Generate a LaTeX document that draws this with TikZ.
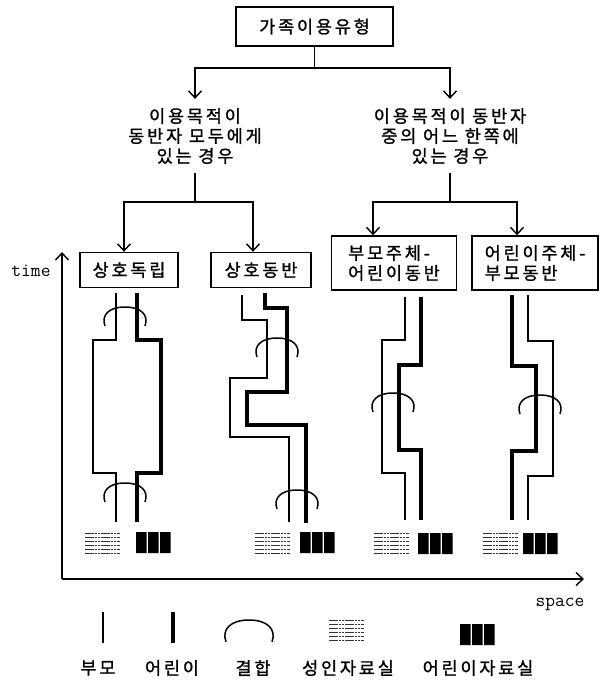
\documentclass[tikz,border=0pt]{standalone}
\usepackage{fontspec}
\newfontfamily\kr[LetterSpace=16,FakeBold=1.2]{Noto Sans CJK KR}
\usetikzlibrary{arrows.meta}
\tikzset{
  joinarc/.pic={\draw[line width=1.5pt] (-20,19) .. controls (-24,8) and (-16,0) .. (0,0) .. controls (16,0) and (24,8) .. (20,19);},
  adultroom/.pic={\foreach \k in {0,...,5}{\draw[line width=0.7pt,black!80,dash pattern=on 2.5pt off 0.7pt] (0,\k*4) -- (35,\k*4);}},
  childroom/.pic={\fill (0,0) rectangle (10.5,21) (12,0) rectangle (22.5,21) (24,0) rectangle (34.5,21);}
}
\begin{document}
\begin{tikzpicture}[x=1pt,y=-1pt,
  krtext/.style={font=\kr\fontsize{17.5}{20}\selectfont},
  boxnode/.style={krtext,draw,line width=1.4pt,inner sep=0pt,align=center},
  conn/.style={line width=1.4pt},
  arr/.style={conn,-{Straight Barb[length=7pt,width=13pt,line width=1.4pt]}},
  parentline/.style={line width=1.5pt},
  childline/.style={line width=3.2pt},
]
\useasboundingbox (0,0) rectangle (604,689);

% tree
\node[boxnode,minimum width=157pt,minimum height=39pt] (top) at (314.5,26.5) {가족이용유형};
\node[krtext,align=center,inner sep=9pt] (lt) at (195,136) {이용목적이\\동반자 모두에게\\있는 경우};
\node[krtext,align=center,inner sep=9pt] (rt) at (450,136) {이용목적이 동반자\\중의 어느 한쪽에\\있는 경우};

\node[boxnode,minimum width=98pt,minimum height=35pt] (b1) at (129,270) {상호독립};
\node[boxnode,minimum width=100pt,minimum height=35pt] (b2) at (261,270) {상호동반};
\node[boxnode,minimum width=125pt,minimum height=54pt,align=left] (b3) at (394,263) {부모주체-\\어린이동반};
\node[boxnode,minimum width=126pt,minimum height=54pt,align=left] (b4) at (535,263) {어린이주체-\\부모동반};

\coordinate (j1) at (top.south |- 0,68);
\draw[conn] (top.south) -- (j1);
\draw[arr] (j1) -| (lt.north);
\draw[arr] (j1) -| (rt.north);

\coordinate (j2) at (lt.south |- 0,202);
\draw[conn] (lt.south) -- (j2);
\draw[arr] (j2) -| ([xshift=-5pt]b1.north);
\draw[arr] (j2) -| ([xshift=-8pt]b2.north);

\coordinate (j3) at (rt.south |- 0,202);
\draw[conn] (rt.south) -- (j3);
\draw[arr] (j3) -| ([xshift=-21pt]b3.north);
\draw[arr] (j3) -| ([xshift=-18pt]b4.north);

% axes
\coordinate (O) at (62,579);
\coordinate (T) at (62,252);
\coordinate (S) at (584,579);
\draw[arr,line width=1.7pt] (O) -- (T);
\draw[arr,line width=1.7pt] (O) -- (S);
\node[font=\ttfamily\fontsize{19}{19}\selectfont] (tl) at (31,271) {time};
\node[font=\ttfamily\fontsize{19}{19}\selectfont] (sl) at (560,604) {space};

% panel 1
\draw[parentline] (116,293) -- (116,340) -- (93,340) -- (93,473) -- (116,473) -- (116,522);
\draw[childline] (137,293) -- (137,340) -- (161,340) -- (161,473) -- (137,473) -- (137,522);
\pic at (125,307) {joinarc};
\pic at (125,483) {joinarc};
\pic at (85,533) {adultroom};
\pic at (136,532) {childroom};

% panel 2
\draw[parentline] (242,295) -- (242,320) -- (267,320) -- (267,378) -- (230,378) -- (230,437) -- (289,437) -- (289,522);
\draw[childline] (265,293) -- (265,308) -- (287,308) -- (287,392) -- (247,392) -- (247,425) -- (306,425) -- (306,523);
\pic at (277,338) {joinarc};
\pic at (297,490) {joinarc};
\pic at (255,533) {adultroom};
\pic at (300,532) {childroom};

% panel 3
\draw[parentline] (405,297) -- (405,340) -- (382,340) -- (382,473) -- (405,473) -- (405,520);
\draw[childline] (421,297) -- (421,365) -- (399,365) -- (399,450) -- (421,450) -- (421,520);
\pic at (393,393) {joinarc};
\pic at (374,533) {adultroom};
\pic at (418,533) {childroom};

% panel 4
\draw[childline] (512,295) -- (512,366) -- (536,366) -- (536,451) -- (512,451) -- (512,520);
\draw[parentline] (528,295) -- (528,341) -- (553,341) -- (553,476) -- (528,476) -- (528,520);
\pic at (540,395) {joinarc};
\pic at (483,533) {adultroom};
\pic at (523,533) {childroom};

% legend
\draw[parentline] (103,612) -- (103,643);
\draw[childline] (173,612) -- (173,643);
\pic[scale=1.15] at (249,620) {joinarc};
\pic at (329,620) {adultroom};
\pic at (460,624) {childroom};
\node[krtext] (l1) at (98,668) {부모};
\node[krtext] (l2) at (172,668) {어린이};
\node[krtext] (l3) at (253,668) {결합};
\node[krtext] (l4) at (348,668) {성인자료실};
\node[krtext] (l5) at (478,668) {어린이자료실};
\end{tikzpicture}
\end{document}
